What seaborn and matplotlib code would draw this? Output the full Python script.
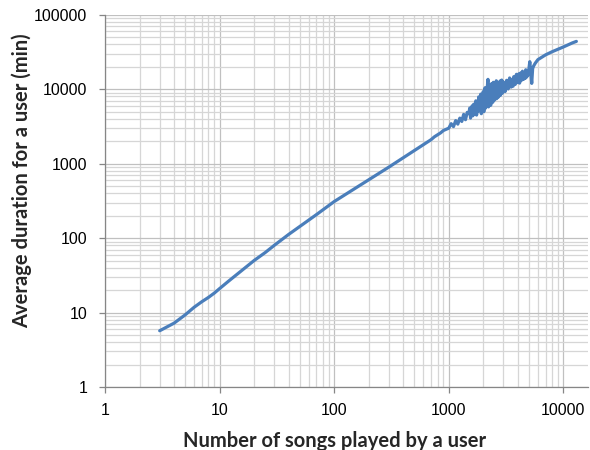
import numpy as np
import pandas as pd
import matplotlib
matplotlib.use("Agg")
import matplotlib.pyplot as plt
import seaborn as sns
from matplotlib.ticker import LogLocator, FuncFormatter, NullFormatter

# valores (numero de musicas x duracao media)
songs_low = [3, 4, 5, 6, 7, 8, 9, 10, 12, 15, 20, 25, 30, 40, 50, 70,
             100, 150, 200, 300, 400, 500, 700, 750, 800, 850, 900, 950]
dur_low = [5.7, 7.2, 9.3, 11.8, 14.0, 16.0, 18.3, 21, 26.5, 35, 50, 64, 80,
           112, 143, 207, 310, 460, 610, 900, 1200, 1500, 2100,
           2300, 2450, 2600, 2800, 2900]

# trecho ruidoso entre ~1000 e ~5500 musicas
songs_mid = [1000, 1050, 1100, 1150, 1200, 1250, 1300, 1350, 1400, 1450,
             1500, 1525, 1550, 1575, 1600, 1625, 1650, 1675, 1700, 1725,
             1750, 1775, 1800, 1825, 1850, 1875, 1900, 1925, 1950, 1975,
             2000, 2025, 2050, 2075, 2100, 2125, 2150, 2175, 2200, 2225,
             2250, 2275, 2300, 2325, 2350, 2375, 2400, 2425, 2450, 2475,
             2500, 2525, 2550, 2575, 2600, 2625, 2650, 2675, 2700, 2725,
             2750, 2775, 2800, 2825, 2850, 2875, 2900, 2925, 2950, 2975,
             3000, 3100, 3200, 3300, 3400, 3500, 3600, 3700, 3800, 3900,
             4000, 4100, 4200, 4300, 4400, 4500, 4600, 4700, 4800, 4900,
             5000, 5100, 5200, 5300, 5400, 5500]
dur_mid = [3000, 3450, 3150, 3800, 3400, 4100, 3700, 4600, 3900, 4900,
           4700, 5600, 4100, 5300, 6000, 4400, 6300, 4600, 5900, 7000,
           4500, 6800, 5000, 7900, 5400, 6600, 8600, 4700, 8000, 5600,
           9300, 5000, 8200, 10500, 5600, 9000, 6400, 11200, 13600, 5800,
           9800, 6900, 10400, 6100, 11800, 7400, 9500, 6700, 12400, 7800,
           10100, 7200, 11600, 8400, 13000, 7500, 10300, 8700, 12300, 7900,
           11000, 9000, 12900, 8300, 11400, 9400, 13300, 8800, 11700, 9700,
           12500, 9300, 13200, 10100, 14200, 10700, 12600, 14800, 11600, 15900,
           12300, 16200, 13000, 15000, 17500, 13600, 15400, 18300, 14600, 17000,
           18500, 23500, 17000, 12000, 19000, 20500]

# pontos intermediarios do trecho 3000-5000
songs_mid2 = [3050, 3150, 3250, 3350, 3450, 3550, 3650, 3750, 3850, 3950,
              4050, 4150, 4250, 4350, 4450, 4550, 4650, 4750, 4850, 4950]
dur_mid2 = [11800, 10600, 11300, 12800, 11200, 13600, 11000, 13000, 14400, 12600,
            14300, 12100, 16600, 13300, 15300, 16800, 14000, 16000, 17600, 15600]

songs_high = [5700, 6000, 6500, 7000, 8000, 9000, 10000, 11000, 12000, 13000]
dur_high = [22500, 25000, 27000, 29000, 32000, 34500, 37000, 39500, 42000, 44000]

x_ticks = [1, 10, 100, 1000, 10000]
y_ticks = [1, 10, 100, 1000, 10000, 100000]

df = pd.DataFrame({
    'songs': songs_low + songs_mid + songs_mid2 + songs_high,
    'duration': dur_low + dur_mid + dur_mid2 + dur_high,
}).sort_values('songs')

sns.set_style('white')
plt.rcParams['font.family'] = ['Liberation Sans', 'DejaVu Sans']

fig, ax = plt.subplots(figsize=(5.9, 4.5), dpi=100)
fig.subplots_adjust(left=0.178, right=0.997, top=0.967, bottom=0.14)

ax = sns.lineplot(data=df, x='songs', y='duration', color='#4a7ebb',
                  linewidth=2.3, errorbar=None, ax=ax)

ax.set_xscale('log')
ax.set_yscale('log')
ax.set_xlim(1, 16500)
ax.set_ylim(1, 100000)

ax.xaxis.set_minor_locator(LogLocator(base=10, subs=np.arange(2, 10)))
ax.yaxis.set_minor_locator(LogLocator(base=10, subs=np.arange(2, 10)))
ax.set_xticks(x_ticks)
ax.set_yticks(y_ticks)
fmt = FuncFormatter(lambda v, p: '%d' % round(v))
ax.xaxis.set_major_formatter(fmt)
ax.yaxis.set_major_formatter(fmt)
ax.xaxis.set_minor_formatter(NullFormatter())
ax.yaxis.set_minor_formatter(NullFormatter())

ax.grid(True, which='major', color='#c0c0c0', linewidth=0.9)
ax.grid(True, which='minor', color='#d6d6d6', linewidth=0.9)
ax.set_axisbelow(True)

for s in ['top', 'right']:
    ax.spines[s].set_visible(False)
for s in ['left', 'bottom']:
    ax.spines[s].set_color('#868686')
    ax.spines[s].set_linewidth(0.9)

ax.tick_params(which='major', length=4.3, width=0.9, color='#868686',
               labelsize=11.5, labelcolor='#000000', pad=8.5)
ax.tick_params(which='minor', length=0)
ax.tick_params(axis='x', which='major', direction='out', bottom=True, pad=7)
ax.tick_params(axis='y', which='major', direction='out', left=True)

ax.set_xlabel('Number of songs played by a user', fontsize=14.5,
              fontweight='bold', family=['Lato', 'DejaVu Sans'])
ax.set_ylabel('Average duration for a user (min)', fontsize=14.5,
              fontweight='bold', family=['Lato', 'DejaVu Sans'])
ax.xaxis.set_label_coords(0.476, -0.117)
ax.yaxis.set_label_coords(-0.15, 0.554)

plt.savefig('out.png', dpi=100)
